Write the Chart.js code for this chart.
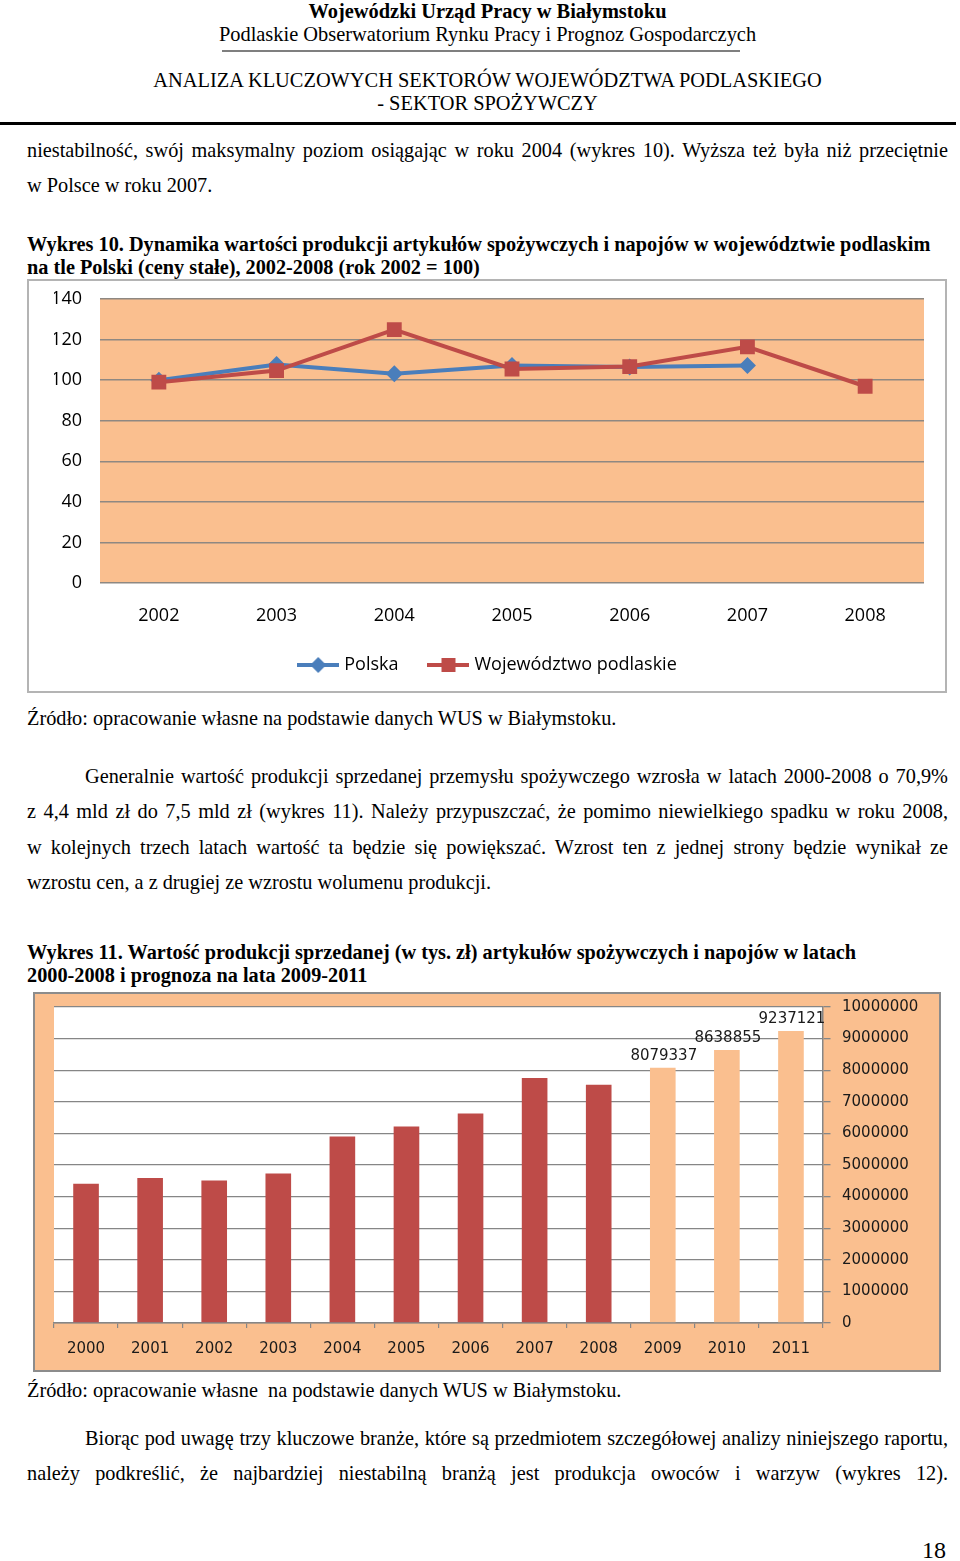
<!DOCTYPE html>
<html><head><meta charset="utf-8">
<script src="https://cdn.jsdelivr.net/npm/chart.js@4.4.0/dist/chart.umd.min.js"></script>
<style>
body{margin:0;width:960px;height:1561px;position:relative;background:#fff;font-family:'Liberation Serif','Times New Roman',serif;color:#000;overflow:hidden}
.t{position:absolute;white-space:nowrap;font-size:20.3px;line-height:22px}
.h{font-size:20.4px}
.b{font-weight:bold}
.c{text-align:center;left:0;width:975px}
.box{position:absolute;box-sizing:border-box}
canvas{position:absolute}
</style></head><body>

<div class="t h b c" style="top:0px">Wojewódzki Urząd Pracy w Białymstoku</div>
<div class="t h c" style="top:23px">Podlaskie Obserwatorium Rynku Pracy i Prognoz Gospodarczych</div>
<div style="position:absolute;left:222px;top:50px;width:518px;height:2px;background:#7f7f7f"></div>
<div class="t h c" style="top:69px">ANALIZA KLUCZOWYCH SEKTORÓW WOJEWÓDZTWA PODLASKIEGO</div>
<div class="t h c" style="top:92px">- SEKTOR SPOŻYWCZY</div>
<div style="position:absolute;left:0;top:122px;width:956px;height:3px;background:#000"></div>

<div class="t j" data-w="921" style="left:27px;top:139px">niestabilność, swój maksymalny poziom osiągając w roku 2004 (wykres 10). Wyższa też była niż przeciętnie</div>
<div class="t" style="left:27px;top:174px">w Polsce w roku 2007.</div>
<div class="t b" style="left:27px;top:233px">Wykres 10. Dynamika wartości produkcji artykułów spożywczych i napojów w województwie podlaskim</div>
<div class="t b" style="left:27px;top:256px">na tle Polski (ceny stałe), 2002-2008 (rok 2002 = 100)</div>

<div class="box" style="left:27px;top:279px;width:920px;height:414px;border:2px solid #b4b4b4"></div>
<canvas id="c1" width="918" height="413" style="left:28px;top:279px"></canvas>

<div class="t" style="left:27px;top:707px">Źródło: opracowanie własne na podstawie danych WUS w Białymstoku.</div>
<div class="t j" data-w="863" style="left:85px;top:765px">Generalnie wartość produkcji sprzedanej przemysłu spożywczego wzrosła w latach 2000-2008 o 70,9%</div>
<div class="t j" data-w="921" style="left:27px;top:800px">z 4,4 mld zł do 7,5 mld zł (wykres 11). Należy przypuszczać, że pomimo niewielkiego spadku w roku 2008,</div>
<div class="t j" data-w="921" style="left:27px;top:836px">w kolejnych trzech latach wartość ta będzie się powiększać. Wzrost ten z jednej strony będzie wynikał ze</div>
<div class="t" style="left:27px;top:871px">wzrostu cen, a z drugiej ze wzrostu wolumenu produkcji.</div>

<div class="t b" style="left:27px;top:941px">Wykres 11. Wartość produkcji sprzedanej (w tys. zł) artykułów spożywczych i napojów w latach</div>
<div class="t b" style="left:27px;top:964px">2000-2008 i prognoza na lata 2009-2011</div>

<div class="box" style="left:33px;top:992px;width:908px;height:380px;border:2px solid #8c8c8c;background:#FABF8F"></div>
<canvas id="c2" width="908" height="380" style="left:33px;top:992px"></canvas>

<div class="t" style="left:27px;top:1379px">Źródło: opracowanie własne&nbsp; na podstawie danych WUS w Białymstoku.</div>
<div class="t j" data-w="863" style="left:85px;top:1427px">Biorąc pod uwagę trzy kluczowe branże, które są przedmiotem szczegółowej analizy niniejszego raportu,</div>
<div class="t j" data-w="921" style="left:27px;top:1462px">należy podkreślić, że najbardziej niestabilną branżą jest produkcja owoców i warzyw (wykres 12).</div>
<div class="t" style="left:922px;top:1537px;font-size:24px;line-height:26px">18</div>

<script>
// justify single lines by word-spacing
document.querySelectorAll('.j').forEach(el => {
  const target = +el.dataset.w;
  const spaces = (el.textContent.match(/ /g) || []).length;
  el.style.wordSpacing = ((target - el.getBoundingClientRect().width) / spaces) + 'px';
});

// ---------- Chart 1 data ----------
const years1 = ['2002', '2003', '2004', '2005', '2006', '2007', '2008'];
const polska = [100, 107.7, 103.1, 107.2, 106.5, 107.2, null];
const podlaskie = [99, 104.7, 124.9, 105.5, 106.7, 116.4, 97.0];
const seriesNames1 = ['Polska', 'Województwo podlaskie'];

// ---------- Chart 2 data ----------
const years2 = ['2000', '2001', '2002', '2003', '2004', '2005', '2006', '2007', '2008', '2009', '2010', '2011'];
const values2 = [4410000, 4590000, 4510000, 4730000, 5900000, 6220000, 6630000, 7750000, 7540000, 8079337, 8638855, 9237121];
const forecastFrom = 9;

const BLUE = '#4A7EBB', RED = '#BE4B48', PEACH = '#FABF8F';

function legendIcon(color, style) {
  const c = document.createElement('canvas');
  c.width = 42; c.height = 18;
  const x = c.getContext('2d');
  x.strokeStyle = color; x.lineWidth = 4;
  x.beginPath(); x.moveTo(0, 9); x.lineTo(42, 9); x.stroke();
  x.fillStyle = color;
  if (style === 'diamond') {
    x.beginPath(); x.moveTo(21, 1); x.lineTo(29, 9); x.lineTo(21, 17); x.lineTo(13, 9); x.closePath(); x.fill();
  } else {
    x.fillRect(14, 2, 14, 14);
  }
  return c;
}
const icons = [legendIcon(BLUE, 'diamond'), legendIcon(RED, 'rect')];

const plotBg = {
  id: 'plotBg',
  beforeDraw(chart, args, opts) {
    const {ctx, chartArea: a} = chart;
    ctx.save(); ctx.fillStyle = opts.color; ctx.fillRect(a.left, a.top, a.right - a.left, a.bottom - a.top); ctx.restore();
  }
};

const f1 = {family: "'Open Sans', sans-serif", size: 18};

new Chart(document.getElementById('c1'), {
  type: 'line',
  data: {
    labels: years1,
    datasets: [
      {label: seriesNames1[0], data: polska, borderColor: BLUE, backgroundColor: BLUE, borderWidth: 4,
       pointStyle: 'rectRot', pointRadius: 8.5, pointHoverRadius: 8.5, pointBorderWidth: 0, order: 1, spanGaps: false},
      {label: seriesNames1[1], data: podlaskie, borderColor: RED, backgroundColor: RED, borderWidth: 4,
       pointStyle: 'rect', pointRadius: 10.5, pointHoverRadius: 10.5, pointBorderWidth: 0, order: 0}
    ]
  },
  options: {
    responsive: false, animation: false,
    layout: {padding: {left: 26, right: 22, top: 20, bottom: 8}},
    plugins: {
      plotBg: {color: PEACH},
      tooltip: {enabled: false},
      legend: {
        position: 'bottom',
        labels: {
          usePointStyle: true, pointStyleWidth: 34, padding: 33, color: '#000', font: f1,
          generateLabels: chart => chart.data.datasets.map((ds, i) => ({
            text: ds.label, pointStyle: icons[i], fillStyle: ds.borderColor, strokeStyle: ds.borderColor,
            lineWidth: 0, hidden: false, datasetIndex: i, fontColor: '#000'
          }))
        }
      }
    },
    scales: {
      x: {
        offset: true,
        grid: {display: false, drawTicks: false},
        border: {display: false},
        ticks: {color: '#000', font: f1, padding: 22},
        afterFit: s => { s.height = 40; }
      },
      y: {
        min: 0, max: 140,
        ticks: {stepSize: 20, color: '#000', font: f1, padding: 0},
        grid: {color: '#8E8882', lineWidth: 1.5, drawTicks: true, tickLength: 18, tickColor: 'rgba(0,0,0,0)'},
        border: {display: false},
        afterFit: s => { s.width = 46; }
      }
    }
  },
  plugins: [plotBg]
});

const f2 = {family: "'DejaVu Sans', Verdana, sans-serif", size: 15};

const valueLabels = {
  id: 'valueLabels',
  afterDatasetsDraw(chart) {
    const {ctx} = chart;
    const meta = chart.getDatasetMeta(0);
    ctx.save();
    ctx.font = "15px 'DejaVu Sans', Verdana, sans-serif";
    ctx.fillStyle = '#1a1a1a'; ctx.textAlign = 'center'; ctx.textBaseline = 'middle';
    meta.data.forEach((el, i) => {
      if (i >= forecastFrom) ctx.fillText(String(values2[i]), el.x + 1, el.y - 11.5);
    });
    ctx.restore();
  }
};

new Chart(document.getElementById('c2'), {
  type: 'bar',
  data: {
    labels: years2,
    datasets: [{
      data: values2,
      backgroundColor: values2.map((v, i) => i >= forecastFrom ? PEACH : RED),
      barPercentage: 0.4, categoryPercentage: 1
    }]
  },
  options: {
    responsive: false, animation: false,
    layout: {padding: {left: 21, top: 15, right: 0, bottom: 0}},
    plugins: {legend: {display: false}, tooltip: {enabled: false}, plotBg: {color: '#ffffff'}},
    scales: {
      x: {
        grid: {drawOnChartArea: false, drawTicks: true, tickLength: 5, color: '#868686', lineWidth: 1.2},
        border: {color: '#868686', width: 1.5},
        ticks: {color: '#1a1a1a', font: f2, padding: 12},
        afterFit: s => { s.height = 49; }
      },
      y: {
        position: 'right', min: 0, max: 10000000,
        ticks: {stepSize: 1000000, color: '#1a1a1a', font: f2, padding: 5, callback: v => String(v)},
        grid: {color: '#868686', lineWidth: 1.3, tickLength: 14, tickBorderDash: [7, 60]},
        border: {color: '#868686', width: 1.5},
        afterFit: s => { s.width = 118; }
      }
    }
  },
  plugins: [plotBg, valueLabels]
});
</script>
</body></html>
